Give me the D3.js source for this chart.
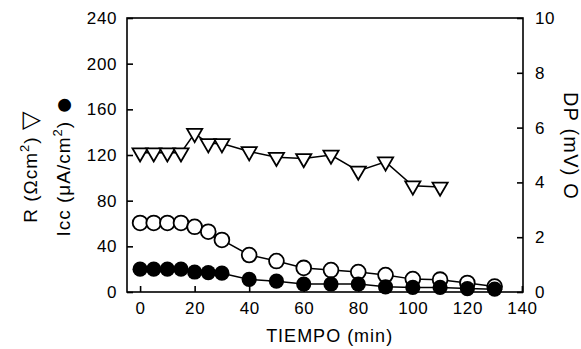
<!DOCTYPE html>
<html>
<head>
<meta charset="utf-8">
<script src="https://cdn.jsdelivr.net/npm/d3@7"></script>
<style>
  body { margin: 0; background: #fff; }
  svg { display: block; font-family: "Liberation Sans", Arial, sans-serif; }
</style>
</head>
<body>
<svg id="chart"></svg>
<script>
// data
const rTime = [0, 5, 10, 15, 20, 25, 30, 40, 50, 60, 70, 80, 90, 100, 110]
const rValues = [122, 122, 122, 122, 139, 130, 130, 123, 118, 117, 120, 106, 114, 93, 92]

const circleTime = [0, 5, 10, 15, 20, 25, 30, 40, 50, 60, 70, 80, 90, 100, 110, 120, 130]
const dpValues = [2.52, 2.52, 2.52, 2.52, 2.38, 2.2, 1.9, 1.35, 1.13, 0.88, 0.8, 0.73, 0.62, 0.47, 0.45, 0.33, 0.2]
const iccValues = [20, 20, 20, 20, 17.5, 17, 16.5, 11, 9.5, 7, 7, 7, 4.5, 4, 4, 3, 2.5]

const xTicks = [0, 20, 40, 60, 80, 100, 120, 140]
const leftTicks = [0, 40, 80, 120, 160, 200, 240]
const rightTicks = [0, 2, 4, 6, 8, 10]

const width = 581, height = 349
const margin = { top: 18, right: 58, bottom: 57, left: 127 }

const svg = d3.select("#chart").attr("width", width).attr("height", height)

const x = d3.scaleLinear().domain([-4.8, 140.4]).range([margin.left, width - margin.right])
const yLeft = d3.scaleLinear().domain([0, 240]).range([height - margin.bottom, margin.top])
const yRight = d3.scaleLinear().domain([0, 10]).range([height - margin.bottom, margin.top])

// frame
svg.append("rect")
  .attr("x", margin.left).attr("y", margin.top)
  .attr("width", width - margin.left - margin.right)
  .attr("height", height - margin.top - margin.bottom)
  .attr("fill", "none").attr("stroke", "#000").attr("stroke-width", 1.6)

const axisStyle = g => {
  g.select(".domain").remove()
  g.selectAll(".tick line").attr("stroke", "#000").attr("stroke-width", 1.6)
  g.selectAll(".tick text").attr("fill", "#000").attr("font-size", 17).attr("letter-spacing", 0.6)
}

svg.append("g")
  .attr("transform", `translate(0,${height - margin.bottom})`)
  .call(d3.axisBottom(x).tickValues(xTicks).tickSize(-6).tickPadding(10))
  .call(axisStyle)

svg.append("g")
  .attr("transform", `translate(${margin.left},0)`)
  .call(d3.axisLeft(yLeft).tickValues(leftTicks).tickSize(-6).tickPadding(10))
  .call(axisStyle)

svg.append("g")
  .attr("transform", `translate(${width - margin.right},0)`)
  .call(d3.axisRight(yRight).tickValues(rightTicks).tickSize(-6).tickPadding(12))
  .call(axisStyle)

// lines
const line = (xs, ys, yScale) => d3.line()
  .x((d, i) => x(xs[i]))
  .y(d => yScale(d))(ys)

svg.append("path").attr("d", line(circleTime, dpValues, yRight))
  .attr("fill", "none").attr("stroke", "#000").attr("stroke-width", 1.5)
svg.append("path").attr("d", line(circleTime, iccValues, yLeft))
  .attr("fill", "none").attr("stroke", "#000").attr("stroke-width", 1.5)
svg.append("path").attr("d", line(rTime, rValues, yLeft))
  .attr("fill", "none").attr("stroke", "#000").attr("stroke-width", 1.5)

// markers
const triangle = d3.symbol().type(d3.symbolTriangle).size(100)

svg.append("g").selectAll("circle")
  .data(dpValues)
  .join("circle")
  .attr("cx", (d, i) => x(circleTime[i]))
  .attr("cy", d => yRight(d))
  .attr("r", 7.4)
  .attr("fill", "#fff").attr("stroke", "#000").attr("stroke-width", 1.8)

svg.append("g").selectAll("circle")
  .data(iccValues)
  .join("circle")
  .attr("cx", (d, i) => x(circleTime[i]))
  .attr("cy", d => yLeft(d))
  .attr("r", 7.6)
  .attr("fill", "#000")

svg.append("g").selectAll("path")
  .data(rValues)
  .join("path")
  .attr("d", triangle)
  .attr("transform", (d, i) => `translate(${x(rTime[i])},${yLeft(d)}) rotate(180)`)
  .attr("fill", "#fff").attr("stroke", "#000").attr("stroke-width", 1.8)

// axis titles
svg.append("text")
  .attr("x", x(69.5)).attr("y", 342)
  .attr("text-anchor", "middle").attr("font-size", 18).attr("letter-spacing", 1)
  .text("TIEMPO (min)")

const rTitle = svg.append("text")
  .attr("transform", "translate(37,167) rotate(-90)")
  .attr("text-anchor", "middle").attr("font-size", 19).attr("letter-spacing", 1)
rTitle.append("tspan").text("R (\u03A9cm")
rTitle.append("tspan").attr("font-size", 13).attr("dy", -8).text("2")
rTitle.append("tspan").attr("dy", 8).text(")  ")
rTitle.append("tspan").attr("font-size", 24).attr("dy", 1).text("\u25BD")

const iTitle = svg.append("text")
  .attr("transform", "translate(70,166) rotate(-90)")
  .attr("text-anchor", "middle").attr("font-size", 19).attr("letter-spacing", 1)
iTitle.append("tspan").text("Icc (\u03BCA/cm")
iTitle.append("tspan").attr("font-size", 13).attr("dy", -8).text("2")
iTitle.append("tspan").attr("dy", 8).text(")  ")
iTitle.append("tspan").attr("font-size", 30).attr("dy", 3).text("\u25CF")

svg.append("text")
  .attr("transform", "translate(564,146) rotate(90)")
  .attr("text-anchor", "middle").attr("font-size", 20).attr("letter-spacing", 1.2)
  .text("DP (mV)   O")
</script>
</body>
</html>
